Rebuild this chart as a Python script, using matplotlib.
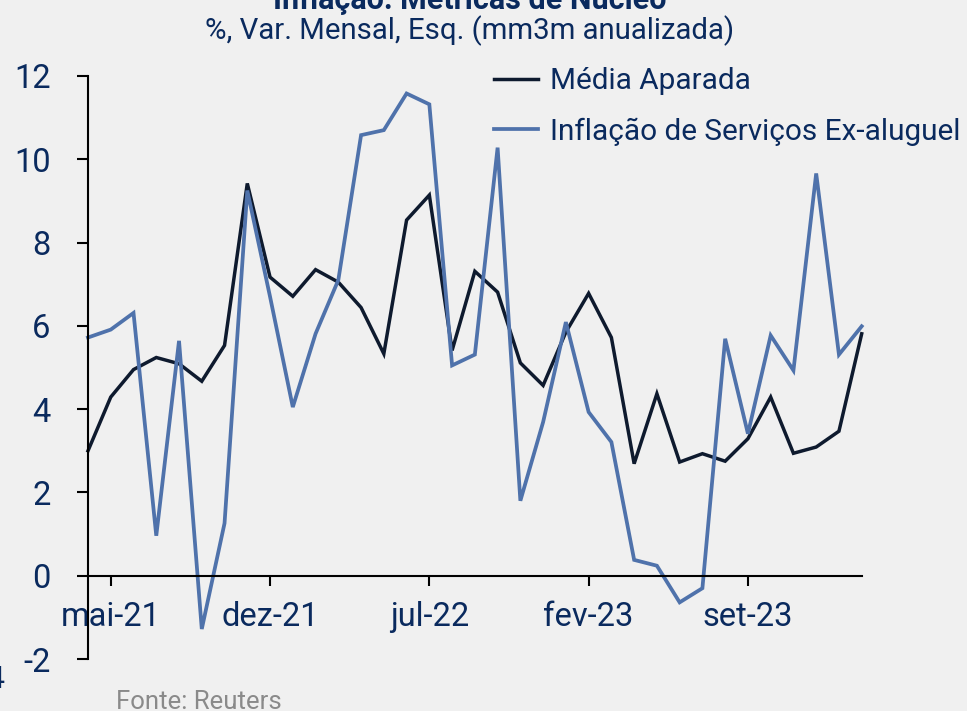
import matplotlib
matplotlib.use("Agg")
import matplotlib.pyplot as plt
import numpy as np

# ---- data ----
months = ["abr-21", "mai-21", "jun-21", "jul-21", "ago-21", "set-21", "out-21", "nov-21",
          "dez-21", "jan-22", "fev-22", "mar-22", "abr-22", "mai-22", "jun-22", "jul-22",
          "ago-22", "set-22", "out-22", "nov-22", "dez-22", "jan-23", "fev-23", "mar-23",
          "abr-23", "mai-23", "jun-23", "jul-23", "ago-23", "set-23", "out-23", "nov-23",
          "dez-23", "jan-24", "fev-24"]
media_aparada = [3.0, 4.29, 4.95, 5.24, 5.09, 4.67, 5.53, 9.42, 7.17, 6.71, 7.35, 7.05,
                 6.44, 5.33, 8.54, 9.14, 5.41, 7.31, 6.81, 5.11, 4.57, 5.85, 6.78, 5.72,
                 2.69, 4.37, 2.73, 2.93, 2.75, 3.29, 4.29, 2.94, 3.09, 3.47, 5.81]
servicos_ex_aluguel = [5.72, 5.91, 6.31, 0.96, 5.64, -1.28, 1.26, 9.25, 6.7, 4.05, 5.81, 7.1,
                       10.58, 10.7, 11.58, 11.32, 5.05, 5.31, 10.28, 1.80, 3.69, 6.09, 3.93, 3.21,
                       0.38, 0.24, -0.64, -0.30, 5.69, 3.41, 5.77, 4.93, 9.66, 5.31, 5.99]
tick_labels = ["mai-21", "dez-21", "jul-22", "fev-23", "set-23"]
y_ticks = [-2, 0, 2, 4, 6, 8, 10, 12]

title = "Inflação: Métricas de Núcleo"
subtitle = "%, Var. Mensal, Esq. (mm3m anualizada)"
source = "Fonte: Reuters"
labels = ["Média Aparada", "Inflação de Serviços Ex-aluguel"]

# ---- style ----
BG = "#F0F0F0"
NAVY = "#0A2A5E"
C_BLACK = "#0E1A2E"
C_BLUE = "#4F72AB"
FONT = "Roboto"
plt.rcParams["font.family"] = [FONT, "DejaVu Sans"]

W, H = 967, 711
fig = plt.figure(figsize=(W / 100, H / 100), dpi=100, facecolor=BG)

left, right = 88, 861.7
top, bottom = 76, 659
ax = fig.add_axes([left / W, (H - bottom) / H, (right - left) / W, (bottom - top) / H])
ax.set_facecolor(BG)

x = np.arange(len(months))
l1, = ax.plot(x, media_aparada, color=C_BLACK, lw=2.5, solid_joinstyle="miter", clip_on=False)
l2, = ax.plot(x, servicos_ex_aluguel, color=C_BLUE, lw=2.7, solid_joinstyle="miter", clip_on=False)

ax.set_xlim(0, len(months) - 1)
ax.set_ylim(-2, 12)
ax.set_yticks(y_ticks)
ax.set_yticklabels([str(v) for v in y_ticks])
ax.set_xticks([months.index(m) for m in tick_labels])
ax.set_xticklabels(tick_labels)

for s in ["top", "right"]:
    ax.spines[s].set_visible(False)
ax.spines["bottom"].set_position(("data", 0))
ax.spines["left"].set_linewidth(1.5)
ax.spines["bottom"].set_linewidth(1.5)
ax.spines["left"].set_color("black")
ax.spines["bottom"].set_color("black")

ax.tick_params(axis="y", direction="out", length=8, width=1.5, color="black",
               labelsize=23.5, labelcolor=NAVY, pad=19)
ax.tick_params(axis="x", direction="out", length=7.5, width=1.5, color="black",
               labelsize=23.5, labelcolor=NAVY, pad=11)

# titles
fig.text(470 / W, 1 - 9 / H, title, ha="center", va="baseline", fontsize=22,
         fontweight="bold", color=NAVY)
fig.text(470 / W, 1 - 31 / H, subtitle, ha="center", va="center", fontsize=21.2, color=NAVY)
fig.text(116 / W, 1 - 702 / H, source, ha="left", va="center", fontsize=18.5, color="#8A8A8A")
fig.text(4 / W, 1 - 680 / H, "4", ha="right", va="center", fontsize=23, color=NAVY)

fig.legend([l1, l2], labels, loc="upper left", bbox_to_anchor=(494 / W, 1 - 67 / H),
           frameon=False, fontsize=21.4, labelcolor=NAVY, borderpad=0, borderaxespad=0,
           handlelength=1.47, handletextpad=0.4, labelspacing=0.75)

fig.savefig("out.png", dpi=100, facecolor=BG)
